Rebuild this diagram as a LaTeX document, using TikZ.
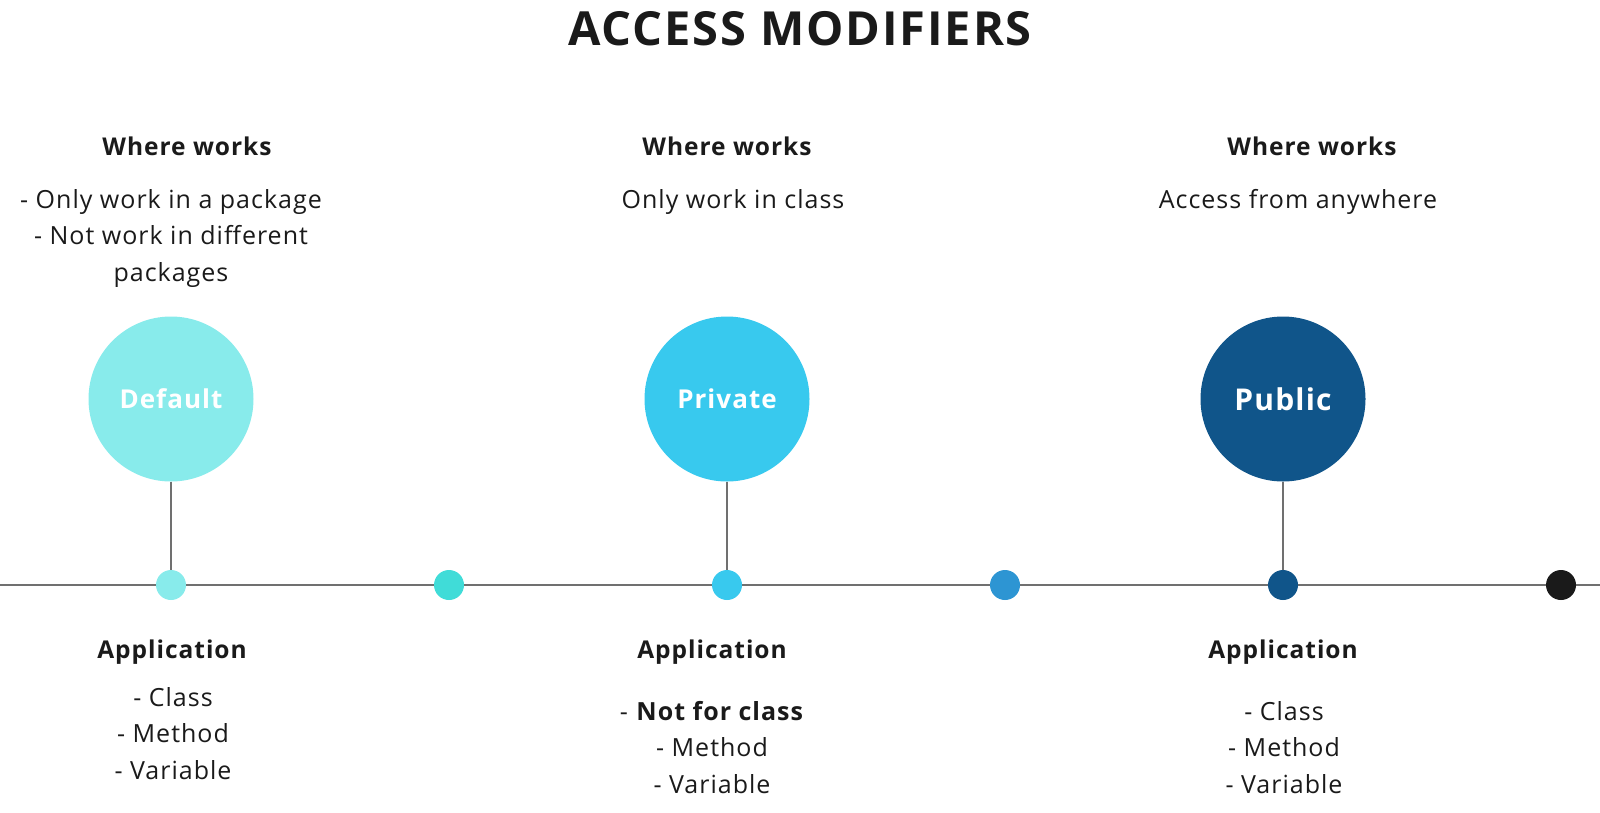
\documentclass[tikz,border=0pt]{standalone}
\usepackage{fontspec}
\setmainfont{Open Sans}[LetterSpace=4]
\usetikzlibrary{positioning}

\definecolor{ink}{HTML}{1A1A1A}
\definecolor{rule}{HTML}{707070}
\definecolor{cDefault}{HTML}{88EBEB}
\definecolor{cTeal}{HTML}{40DCD8}
\definecolor{cPrivate}{HTML}{38C9EE}
\definecolor{cBlue}{HTML}{2D95D3}
\definecolor{cPublic}{HTML}{10558A}

\begin{document}
\begin{tikzpicture}[x=1pt, y=-1pt, inner sep=0pt,
   big/.style={circle, minimum size=165pt, text=white, font=\bfseries\fontsize{26}{30}\selectfont},
   dot/.style={circle, minimum size=30pt},
   head/.style={text=ink, font=\bfseries\fontsize{24.5}{28}\selectfont},
   body/.style={text=ink, align=center, anchor=north, font=\fontsize{25}{36.5}\selectfont},
   link/.style={draw=rule, line width=1.3pt}]
   \useasboundingbox (0,0) rectangle (1600,812);

   \node[text=ink, font=\bfseries\fontsize{47}{50}\selectfont] (title) at (800,29) {ACCESS MODIFIERS};

   % timeline
   \draw[link] (0,585) -- (1600,585);

   \node[big, fill=cDefault] (def)  at (171,399)  {Default};
   \node[big, fill=cPrivate] (priv) at (727,399)  {Private};
   \node[big, fill=cPublic, font=\bfseries\fontsize{30}{34}\selectfont] (pub) at (1283,399) {Public};

   \node[dot, fill=cDefault] (dDef)  at (171,585)  {};
   \node[dot, fill=cTeal]    (dTeal) at (449,585)  {};
   \node[dot, fill=cPrivate] (dPriv) at (727,585)  {};
   \node[dot, fill=cBlue]    (dBlue) at (1005,585) {};
   \node[dot, fill=cPublic]  (dPub)  at (1283,585) {};
   \node[dot, fill=ink]      (dEnd)  at (1561,585) {};

   \draw[link] (def) -- (dDef);
   \draw[link] (priv) -- (dPriv);
   \draw[link] (pub) -- (dPub);

   % where works
   \node[head] (wDef)  at (187,146)  {Where works};
   \node[head] (wPriv) at (727,146)  {Where works};
   \node[head] (wPub)  at (1312,146) {Where works};
   \node[body] (bDef)  at (171,189)  {- Only work in a package\\- Not work in different\\packages};
   \node[body] (bPriv) at (733,189)  {Only work in class};
   \node[body] (bPub)  at (1298,189) {Access from anywhere};

   % application
   \node[head] (aDef)  at (172,652)  {Application};
   \node[head] (aPriv) at (712,652)  {Application};
   \node[head] (aPub)  at (1283,652) {Application};
   \node[body] (lDef)  at (173,687)  {- Class\\- Method\\- Variable};
   \node[body] (lPriv) at (712,701)  {- \textbf{Not for class}\\- Method\\- Variable};
   \node[body] (lPub)  at (1284,701) {- Class\\- Method\\- Variable};
\end{tikzpicture}
\end{document}
